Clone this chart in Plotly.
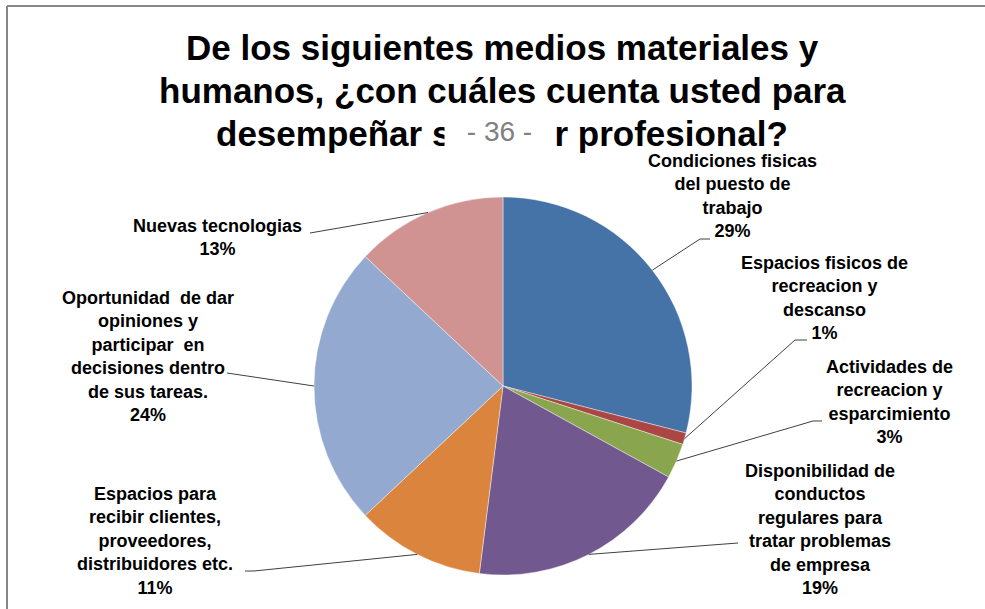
import math

import plotly.graph_objects as go

# ── Data ──────────────────────────────────────────────────────────────────────
categories = [
    "Condiciones fisicas del puesto de trabajo",
    "Espacios fisicos de recreacion y descanso",
    "Actividades de recreacion y esparcimiento",
    "Disponibilidad de conductos regulares para tratar problemas de empresa",
    "Espacios para recibir clientes, proveedores, distribuidores etc.",
    "Oportunidad de dar opiniones y participar en decisiones dentro de sus tareas.",
    "Nuevas tecnologias",
]
percent = [29, 1, 3, 19, 11, 24, 13]
label_lines = [
    ["Condiciones fisicas", "del puesto de", "trabajo"],
    ["Espacios fisicos de", "recreacion y", "descanso"],
    ["Actividades de", "recreacion y", "esparcimiento"],
    ["Disponibilidad de", "conductos", "regulares para", "tratar problemas", "de empresa"],
    ["Espacios para", "recibir clientes,", "proveedores,", "distribuidores etc."],
    ["Oportunidad  de dar", "opiniones y", "participar  en", "decisiones dentro", "de sus tareas."],
    ["Nuevas tecnologias"],
]
slice_colors = ["#4572A7", "#AA4643", "#89A54E", "#71588F", "#DB843D", "#93A9CF", "#D19392"]

title_lines = [
    "De los siguientes medios materiales y",
    "humanos, ¿con cuáles cuenta usted para",
    "desempeñar su labor profesional?",
]

# ── Layout constants (pixels, origin top-left) ────────────────────────────────
W, H = 985, 609
CX, CY, R = 503, 386, 189
FONT = "Liberation Sans"

# label block centre and leader-line points (from pie edge to these points)
label_layout = [
    dict(x=732, y=196, leader=[(700, 239), (710, 239)]),
    dict(x=824, y=298, leader=[(795, 340), (807, 340)]),
    dict(x=889, y=402, leader=[(813, 421), (822, 421)]),
    dict(x=820, y=529, leader=[(738, 543)]),
    dict(x=155, y=541, leader=[(254, 571), (245, 571)]),
    dict(x=148, y=357, leader=[(227, 373)]),
    dict(x=217, y=238, leader=[(310, 233)]),
]


def px(x, y):
    return x / W, 1 - y / H


fig = go.Figure(
    go.Pie(
        labels=categories,
        values=percent,
        sort=False,
        direction="clockwise",
        rotation=0,
        marker=dict(colors=slice_colors, line=dict(color="rgba(255,255,255,0.6)", width=0.7)),
        textinfo="none",
        hovertemplate="%{label}<br>%{percent}<extra></extra>",
        domain=dict(
            x=[(CX - R) / W, (CX + R) / W],
            y=[1 - (CY + R) / H, 1 - (CY - R) / H],
        ),
        showlegend=False,
    )
)

annotations = []
shapes = []

# ── Title (one annotation per line) ──────────────────────────────────────────
for i, line in enumerate(title_lines):
    x, y = px(502, 47 + i * 43)
    annotations.append(dict(
        text=line, x=x, y=y, xref="paper", yref="paper",
        xanchor="center", yanchor="middle", showarrow=False,
        font=dict(family=FONT, size=35, color="black", weight="bold"),
    ))

# page-number stamp covering part of the title
x, y = px(500, 131)
annotations.append(dict(
    text="- 36 -", x=x, y=y, xref="paper", yref="paper",
    xanchor="center", yanchor="middle", showarrow=False,
    width=107, height=44, bgcolor="white",
    font=dict(family=FONT, size=28, color="#808080"),
))

# ── Labels and leader lines ───────────────────────────────────────────────────
total = sum(percent)
cum = 0
for val, lines, lay in zip(percent, label_lines, label_layout):
    mid = (cum + val / 2) / total * 2 * math.pi
    cum += val
    edge = (CX + R * math.sin(mid), CY - R * math.cos(mid))

    text = "<br>".join(lines + [f"{val}%"])
    x, y = px(lay["x"], lay["y"])
    annotations.append(dict(
        text=text, x=x, y=y, xref="paper", yref="paper",
        xanchor="center", yanchor="middle", align="center", showarrow=False,
        font=dict(family=FONT, size=18, color="black", weight="bold"),
    ))

    pts = [edge] + lay["leader"]
    path = "M " + " L ".join(f"{px(a, b)[0]},{px(a, b)[1]}" for a, b in pts)
    shapes.append(dict(
        type="path", path=path, xref="paper", yref="paper",
        line=dict(color="#404040", width=1),
    ))

# chart frame (top and left edges visible)
shapes.append(dict(type="line", xref="paper", yref="paper",
                   x0=7 / W, x1=1, y0=1 - 6 / H, y1=1 - 6 / H,
                   line=dict(color="#868686", width=2)))
shapes.append(dict(type="line", xref="paper", yref="paper",
                   x0=7 / W, x1=7 / W, y0=0, y1=1 - 6 / H,
                   line=dict(color="#868686", width=2)))

fig.update_layout(
    width=W,
    height=H,
    margin=dict(l=0, r=0, t=0, b=0),
    paper_bgcolor="white",
    plot_bgcolor="white",
    annotations=annotations,
    shapes=shapes,
)

# the page body has a default 8px margin; remove it so the figure fills the window
fig.write_html(
    "out.html",
    config={"displayModeBar": False},
    post_script="document.body.style.margin = '0';",
)
